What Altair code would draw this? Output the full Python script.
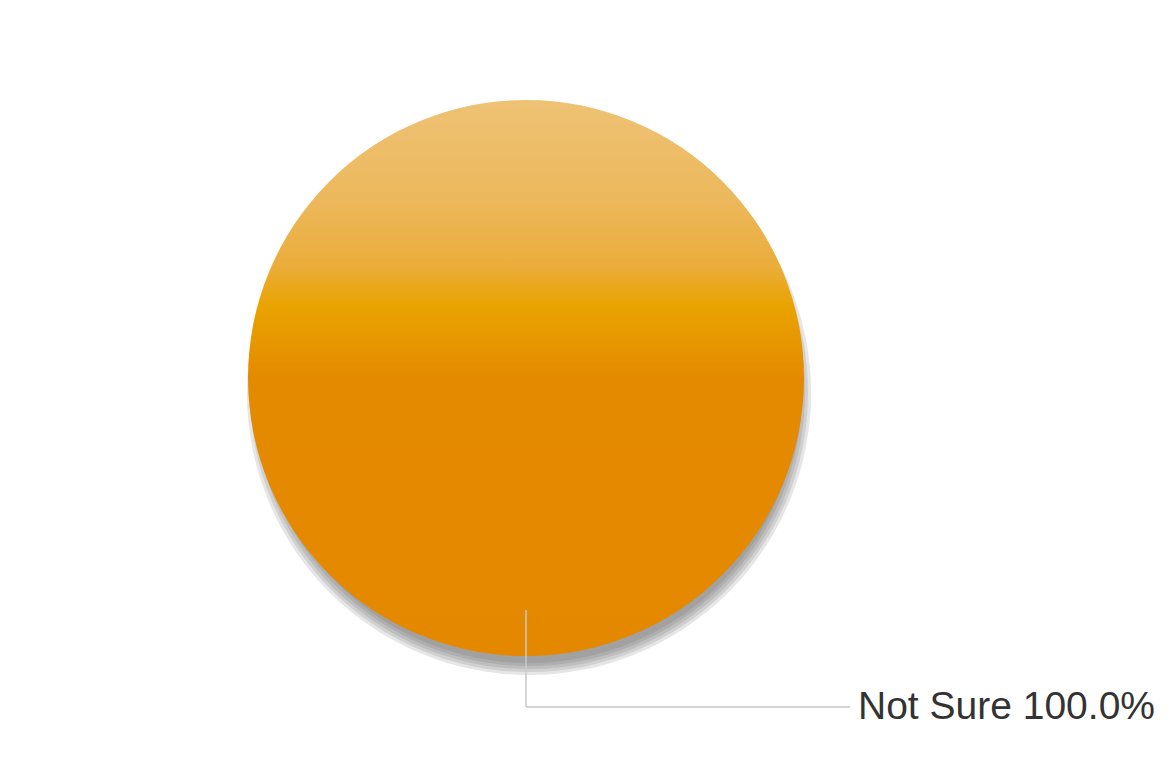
import altair as alt
import pandas as pd

categories = ["Not Sure"]
values = [100.0]

df = pd.DataFrame({"category": categories, "value": values})

R = 278
gradient = {
    "gradient": "linear",
    "x1": 0, "y1": 0, "x2": 0, "y2": 1,
    "stops": [
        {"offset": 0.0, "color": "#EEC274"},
        {"offset": 0.18, "color": "#ECB85C"},
        {"offset": 0.30, "color": "#EBAD3A"},
        {"offset": 0.37, "color": "#E9A300"},
        {"offset": 0.45, "color": "#E69400"},
        {"offset": 0.50, "color": "#E48A00"},
        {"offset": 1.0, "color": "#E48800"},
    ],
}

theta = alt.Theta("value:Q", stack=True, scale=alt.Scale(domain=[0, 100]))
base = alt.Chart(df)

layers = []
for dr in [4, 1, -2, -5, -8]:
    layers.append(
        base.mark_arc(radius=R + dr, color="#555555", opacity=0.15, yOffset=15, xOffset=3)
        .encode(theta=theta)
    )

pie = base.mark_arc(radius=R, color=gradient).encode(theta=theta)

leader_v = base.mark_rule(color="#C8C8C8", strokeWidth=1.5).encode(
    x=alt.value(518), y=alt.value(602), y2=alt.value(699)
)
leader_h = base.mark_rule(color="#C8C8C8", strokeWidth=1.5).encode(
    x=alt.value(518), x2=alt.value(842), y=alt.value(699)
)

label = base.transform_calculate(
    label="datum.category + ' ' + format(datum.value, '.1f') + '%'"
).mark_text(
    radius=329, align="left", baseline="middle", dx=332, dy=0,
    fontSize=39, font="Liberation Sans", color="#333333"
).encode(theta=theta, text="label:N")

chart = alt.layer(*layers, pie, leader_v, leader_h, label).properties(
    width=1036, height=740,
    autosize=alt.AutoSizeParams(type="none"),
    padding={"left": 0, "top": 0, "right": 120, "bottom": 24},
    background="white",
).configure_view(stroke=None)

chart.save("out.html", embed_options={"renderer": "svg", "actions": False})
